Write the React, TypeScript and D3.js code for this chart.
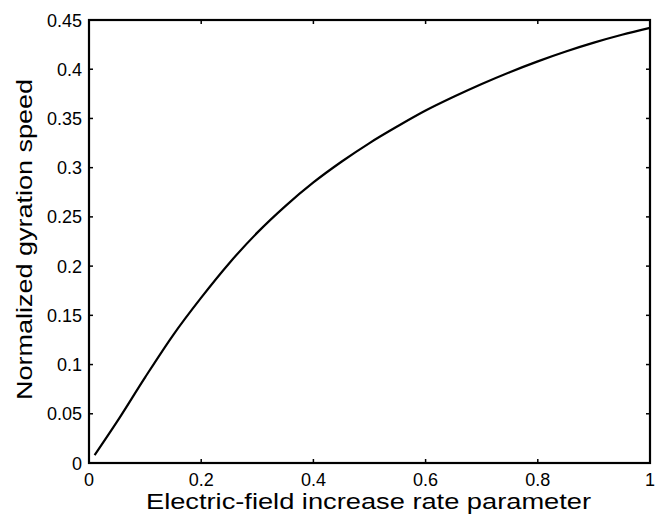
import React, { useRef, useEffect } from 'react';
import * as d3 from 'd3';

// field increase rate parameter (x) and normalized gyration speed (y)
const rateParam = [0.01, 0.05, 0.1, 0.15, 0.2, 0.25, 0.3, 0.35, 0.4, 0.45, 0.5, 0.55, 0.6, 0.65, 0.7, 0.75, 0.8, 0.85, 0.9, 0.95, 1.0];
const gyrationSpeed = [0.008, 0.042, 0.087, 0.13, 0.168, 0.203, 0.234, 0.261, 0.285, 0.306, 0.325, 0.342, 0.358, 0.372, 0.385, 0.397, 0.408, 0.418, 0.427, 0.435, 0.442];

const xTicks = [0, 0.2, 0.4, 0.6, 0.8, 1];
const yTicks = [0, 0.05, 0.1, 0.15, 0.2, 0.25, 0.3, 0.35, 0.4, 0.45];

const xLabel = 'Electric-field increase rate parameter';
const yLabel = 'Normalized gyration speed';

const App = () => {
  const svgRef = useRef<SVGSVGElement>(null);

  useEffect(() => {
    const width = 660;
    const height = 514;
    const margin = { top: 20, right: 10, bottom: 51, left: 89 };
    const font = 'Arial, "Liberation Sans", Helvetica, sans-serif';

    const svg = d3.select(svgRef.current);
    svg.selectAll('*').remove();

    const x = d3.scaleLinear().domain([0, 1]).range([margin.left, width - margin.right]);
    const y = d3.scaleLinear().domain([0, 0.45]).range([height - margin.bottom, margin.top]);

    svg.append('rect')
      .attr('width', width)
      .attr('height', height)
      .attr('fill', '#fff');

    // ticks pointing inwards on all four sides
    const tickLen = 4;
    const ticks = svg.append('g').attr('stroke', '#000').attr('stroke-width', 1.5);
    xTicks.forEach(t => {
      ticks.append('line').attr('x1', x(t)).attr('x2', x(t)).attr('y1', y(0)).attr('y2', y(0) - tickLen);
      ticks.append('line').attr('x1', x(t)).attr('x2', x(t)).attr('y1', y(0.45)).attr('y2', y(0.45) + tickLen);
    });
    yTicks.forEach(t => {
      ticks.append('line').attr('x1', x(0)).attr('x2', x(0) + tickLen).attr('y1', y(t)).attr('y2', y(t));
      ticks.append('line').attr('x1', x(1)).attr('x2', x(1) - tickLen).attr('y1', y(t)).attr('y2', y(t));
    });

    // box
    svg.append('rect')
      .attr('x', x(0))
      .attr('y', y(0.45))
      .attr('width', x(1) - x(0))
      .attr('height', y(0) - y(0.45))
      .attr('fill', 'none')
      .attr('stroke', '#000')
      .attr('stroke-width', 2.2);

    // tick labels
    svg.append('g')
      .selectAll('text')
      .data(xTicks)
      .join('text')
      .attr('x', d => x(d))
      .attr('y', y(0) + 23)
      .attr('text-anchor', 'middle')
      .attr('font-family', font)
      .attr('font-size', 18)
      .text(d => d3.format('~g')(d));

    svg.append('g')
      .selectAll('text')
      .data(yTicks)
      .join('text')
      .attr('x', x(0) - 7)
      .attr('y', d => y(d) + 6.5)
      .attr('text-anchor', 'end')
      .attr('font-family', font)
      .attr('font-size', 18)
      .text(d => d3.format('~g')(d));

    // axis titles
    svg.append('text')
      .attr('x', 146)
      .attr('y', 508.5)
      .attr('font-family', font)
      .attr('font-size', 22)
      .attr('textLength', 445)
      .attr('lengthAdjust', 'spacingAndGlyphs')
      .text(xLabel);

    svg.append('text')
      .attr('transform', 'translate(32, 400) rotate(-90)')
      .attr('font-family', font)
      .attr('font-size', 22)
      .attr('textLength', 321)
      .attr('lengthAdjust', 'spacingAndGlyphs')
      .text(yLabel);

    // the curve
    const line = d3.line<number>()
      .x((d, i) => x(rateParam[i]))
      .y(d => y(d))
      .curve(d3.curveMonotoneX);

    svg.append('path')
      .datum(gyrationSpeed)
      .attr('fill', 'none')
      .attr('stroke', '#000')
      .attr('stroke-width', 2.2)
      .attr('d', line);
  }, []);

  return (
    <svg
      ref={svgRef}
      width={660}
      height={514}
      style={{ position: 'absolute', left: 0, top: 0, display: 'block' }}
    />
  );
};

export default App;
